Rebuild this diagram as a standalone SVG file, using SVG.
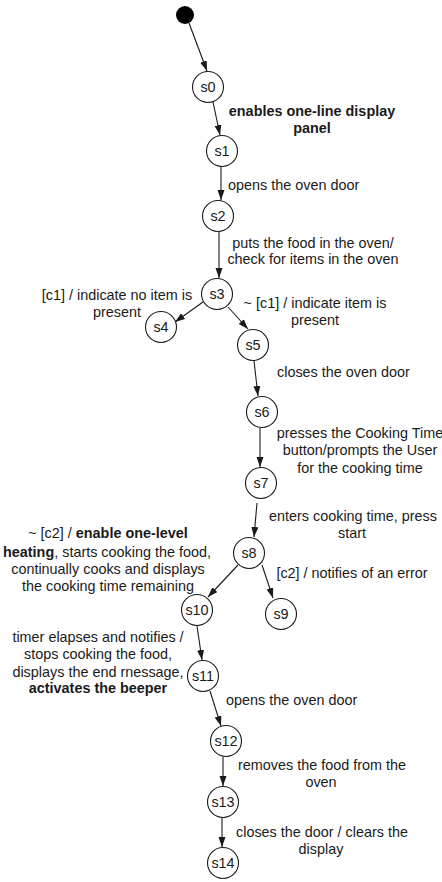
<svg xmlns="http://www.w3.org/2000/svg" width="442" height="882" viewBox="0 0 442 882">
  <style>
    .st circle { fill: #fff; stroke: #1a1a1a; stroke-width: 1.1; }
    .st text { font-family: "Liberation Sans", Arial, sans-serif; font-size: 14.4px; fill: #1a1a1a; text-anchor: middle; }
    .edges line { stroke: #1a1a1a; stroke-width: 1.1; marker-end: url(#arrow); }
    .lbl { font-family: "Liberation Sans", Arial, sans-serif; font-size: 14.4px; fill: #1a1a1a; text-anchor: middle; }
    .lbl.start { text-anchor: start; }
    .b { font-weight: bold; }
  </style>
  <defs>
    <marker id="arrow" markerUnits="userSpaceOnUse" markerWidth="11" markerHeight="8" refX="10" refY="3.5" orient="auto">
      <path d="M0,0 L10,3.5 L0,7 z" fill="#1a1a1a"/>
    </marker>
  </defs>
  <rect width="442" height="882" fill="#fff"/>

  <!-- transitions -->
  <g id="edges" class="edges">
    <line x1="189" y1="23" x2="207" y2="71"/>
    <line x1="213" y1="102" x2="220" y2="135"/>
    <line x1="221" y1="166" x2="221" y2="200"/>
    <line x1="219" y1="232" x2="219" y2="278"/>
    <line x1="203" y1="302" x2="175" y2="322"/>
    <line x1="228" y1="307" x2="248" y2="329"/>
    <line x1="254" y1="361" x2="258" y2="396"/>
    <line x1="260" y1="428" x2="260" y2="467"/>
    <line x1="257" y1="503" x2="254" y2="537"/>
    <line x1="262" y1="565" x2="273" y2="598"/>
    <line x1="238" y1="565" x2="208" y2="597"/>
    <line x1="197" y1="626" x2="202" y2="660"/>
    <line x1="210" y1="691" x2="221" y2="726"/>
    <line x1="223" y1="757" x2="223" y2="786"/>
    <line x1="222" y1="818" x2="222" y2="847"/>
  </g>

  <!-- initial pseudo-state -->
  <g id="init"><circle cx="185" cy="15" r="9" fill="#000"/></g>

  <!-- states -->
  <g id="s0" class="st"><circle cx="208" cy="87" r="15.5"/><text x="208" y="92">s0</text></g>
  <g id="s1" class="st"><circle cx="222" cy="151" r="15.5"/><text x="222" y="156">s1</text></g>
  <g id="s2" class="st"><circle cx="218" cy="216" r="15.5"/><text x="218" y="221">s2</text></g>
  <g id="s3" class="st"><circle cx="217" cy="294" r="15.5"/><text x="217" y="299">s3</text></g>
  <g id="s4" class="st"><circle cx="161" cy="327" r="15.5"/><text x="161" y="332">s4</text></g>
  <g id="s5" class="st"><circle cx="253" cy="345" r="15.5"/><text x="253" y="350">s5</text></g>
  <g id="s6" class="st"><circle cx="262" cy="412" r="15.5"/><text x="262" y="417">s6</text></g>
  <g id="s7" class="st"><circle cx="261" cy="483" r="15.5"/><text x="261" y="488">s7</text></g>
  <g id="s8" class="st"><circle cx="249" cy="553" r="15.5"/><text x="249" y="558">s8</text></g>
  <g id="s9" class="st"><circle cx="281" cy="614" r="15.5"/><text x="281" y="619">s9</text></g>
  <g id="s10" class="st"><circle cx="197" cy="610" r="15.5"/><text x="197" y="615">s10</text></g>
  <g id="s11" class="st"><circle cx="203" cy="676" r="15.5"/><text x="203" y="681">s11</text></g>
  <g id="s12" class="st"><circle cx="226" cy="741" r="15.5"/><text x="226" y="746">s12</text></g>
  <g id="s13" class="st"><circle cx="223" cy="802" r="15.5"/><text x="223" y="807">s13</text></g>
  <g id="s14" class="st"><circle cx="223" cy="863" r="15.5"/><text x="223" y="868">s14</text></g>

  <!-- transition labels -->
  <g id="labels">
    <text class="lbl b" x="312" y="116">enables one-line display</text>
    <text class="lbl b" x="312" y="133">panel</text>

    <text class="lbl start" x="228" y="190">opens the oven door</text>

    <text class="lbl" x="313" y="248">puts the food in the oven/</text>
    <text class="lbl" x="313" y="264">check for items in the oven</text>

    <text class="lbl" x="117" y="300">[c1] / indicate no item is</text>
    <text class="lbl" x="117" y="317">present</text>

    <text class="lbl" x="315" y="308">~ [c1] / indicate item is</text>
    <text class="lbl" x="315" y="325">present</text>

    <text class="lbl start" x="277" y="377">closes the oven door</text>

    <text class="lbl" x="360" y="438">presses the Cooking Time</text>
    <text class="lbl" x="360" y="455">button/prompts the User</text>
    <text class="lbl" x="360" y="473">for the cooking time</text>

    <text class="lbl" x="353" y="521">enters cooking time, press</text>
    <text class="lbl" x="352" y="538">start</text>

    <text class="lbl" x="352" y="578">[c2] / notifies of an error</text>

    <text class="lbl" x="108" y="538">~ [c2] / <tspan class="b">enable one-level</tspan></text>
    <text class="lbl" x="107" y="557"><tspan class="b">heating</tspan>, starts cooking the food,</text>
    <text class="lbl" x="108" y="574">continually cooks and displays</text>
    <text class="lbl" x="108" y="591">the cooking time remaining</text>

    <text class="lbl" x="98" y="642">timer elapses and notifies /</text>
    <text class="lbl" x="98" y="659">stops cooking the food,</text>
    <text class="lbl" x="98" y="677">displays the end rnessage,</text>
    <text class="lbl b" x="98" y="693">activates the beeper</text>

    <text class="lbl start" x="226" y="705">opens the oven door</text>

    <text class="lbl" x="322" y="770">removes the food from the</text>
    <text class="lbl" x="321" y="787">oven</text>

    <text class="lbl" x="322" y="837">closes the door / clears the</text>
    <text class="lbl" x="321" y="854">display</text>
  </g>
</svg>
